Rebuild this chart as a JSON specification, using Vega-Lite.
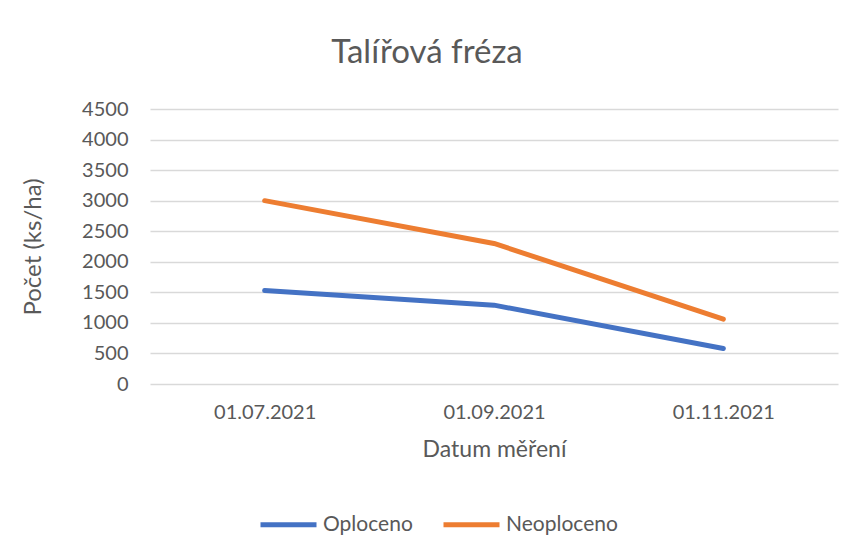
{
  "$schema": "https://vega.github.io/schema/vega-lite/v6.json",
  "autosize": {"type": "none"},
  "width": 688,
  "height": 275,
  "padding": {"left": 150, "top": 109, "right": 16, "bottom": 173},
  "background": "white",
  "title": {
    "text": "Talířová fréza",
    "fontSize": 33,
    "font": "Lato",
    "fontWeight": "normal",
    "color": "#595959",
    "anchor": "middle",
    "dx": -67,
    "offset": 29
  },
  "data": {
    "values": [
      {"datum": "01.07.2021", "serie": "Oploceno", "pocet": 1530},
      {"datum": "01.09.2021", "serie": "Oploceno", "pocet": 1290},
      {"datum": "01.11.2021", "serie": "Oploceno", "pocet": 580},
      {"datum": "01.07.2021", "serie": "Neoploceno", "pocet": 3000},
      {"datum": "01.09.2021", "serie": "Neoploceno", "pocet": 2300},
      {"datum": "01.11.2021", "serie": "Neoploceno", "pocet": 1060}
    ]
  },
  "mark": {"type": "line", "strokeWidth": 5, "strokeCap": "round", "strokeJoin": "round"},
  "encoding": {
    "x": {
      "field": "datum",
      "type": "ordinal",
      "sort": null,
      "scale": {"type": "point", "padding": 0.5},
      "axis": {
        "title": "Datum měření",
        "labelAngle": 0,
        "ticks": false,
        "domain": false,
        "grid": false,
        "labelPadding": 18,
        "titlePadding": 16,
        "labelFontSize": 20,
        "titleFontSize": 23,
        "titleFontWeight": "normal"
      }
    },
    "y": {
      "field": "pocet",
      "type": "quantitative",
      "scale": {"domain": [0, 4500], "nice": false},
      "axis": {
        "title": "Počet (ks/ha)",
        "format": "d",
        "values": [0, 500, 1000, 1500, 2000, 2500, 3000, 3500, 4000, 4500],
        "ticks": false,
        "domain": false,
        "labelPadding": 22,
        "titlePadding": 36,
        "labelFontSize": 20,
        "titleFontSize": 24,
        "titleFontWeight": "normal"
      }
    },
    "color": {
      "field": "serie",
      "type": "nominal",
      "scale": {"domain": ["Oploceno", "Neoploceno"], "range": ["#4472C4", "#ED7D31"]},
      "legend": {
        "title": null,
        "orient": "none",
        "direction": "horizontal",
        "legendX": 108,
        "legendY": 385,
        "symbolType": "stroke",
        "symbolSize": 3136,
        "symbolStrokeWidth": 5,
        "labelFontSize": 21,
        "labelOffset": 4,
        "columnPadding": 20
      }
    }
  },
  "config": {
    "font": "Lato",
    "view": {"stroke": null},
    "axis": {
      "labelColor": "#595959",
      "titleColor": "#595959",
      "labelFont": "Lato",
      "titleFont": "Lato",
      "gridColor": "#d9d9d9",
      "gridWidth": 1.3
    },
    "legend": {"labelColor": "#595959", "labelFont": "Lato"}
  }
}
